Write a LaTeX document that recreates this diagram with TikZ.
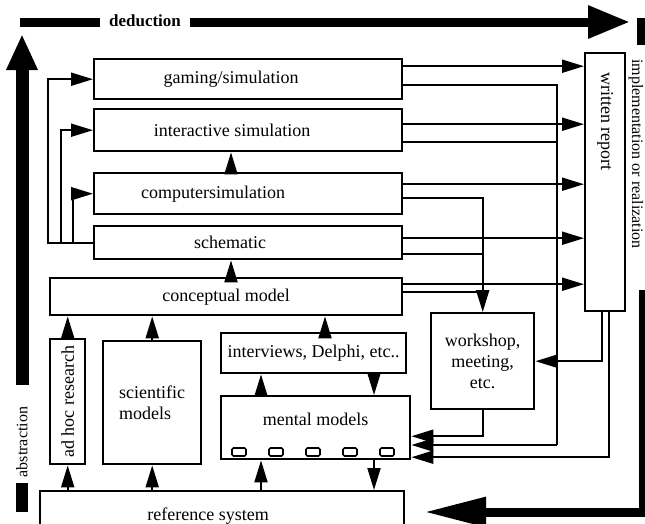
\documentclass[tikz,border=0pt]{standalone}
\usepackage{fontspec}
\setmainfont{Liberation Serif}
\usetikzlibrary{arrows.meta}

\tikzset{
	box/.style={draw, line width=2.4pt, inner sep=0pt, anchor=north west, align=center},
	wire/.style={line width=2pt},
	flow/.style={line width=2pt, -{Triangle[length=22pt,width=13pt]}},
	bar/.style={line width=#1},
	textleft/.style={execute at begin node={\hspace*{-#1}}},
}

\begin{document}
\begin{tikzpicture}[x=1pt, y=-1pt, font=\fontsize{18}{21}\selectfont]
			\clip (0,0) rectangle (645,523);
			\node[box, textleft=34pt, minimum width=308pt, minimum height=40pt] (gaming) at (93,58) {gaming/simulation};
			\node[box, textleft=32pt, minimum width=308pt, minimum height=42pt] (inter) at (93,108) {interactive simulation};
			\node[box, textleft=70pt, minimum width=308pt, minimum height=41pt] (comp) at (93,172) {computersimulation};
			\node[box, textleft=36pt, minimum width=308pt, minimum height=33pt] (schem) at (93,225) {schematic};
			\node[box, minimum width=352pt, minimum height=37pt] (concept) at (49,277) {conceptual model};
			\node[box, minimum width=35pt, minimum height=125pt] (adhoc) at (49,338) {\rotatebox{90}{ad hoc research}};
			\node[box, minimum width=98pt, minimum height=123pt, align=left] (sci) at (102,340) {scientific\\models};
			\node[box, minimum width=185pt, minimum height=40pt] (interv) at (220,332) {interviews, Delphi, etc..};
			\node[box, minimum width=189pt, minimum height=63pt] (mental) at (220,395) {mental models\\[-4pt]};
			\node[box, minimum width=103pt, minimum height=96pt] (workshop) at (430,312) {workshop,\\meeting,\\etc.};
			\node[box, textleft=28pt, minimum width=364pt, minimum height=50pt] (refsys) at (39,490) {reference system};
			\node[box, minimum width=40pt, minimum height=258pt] (report) at (584,52) {\rotatebox{-90}{\makebox[220pt][l]{written report}}};
			\foreach \i in {0,...,4}
				\draw[line width=1.6pt, rounded corners=1.5pt] (232+\i*37,448) rectangle ++(14,8);
			% big arrows round the picture
			\node[font=\bfseries\fontsize{17}{20}\selectfont] (ded) at (145,21) {deduction};
			\draw[bar=9pt] (20,22) -- ([xshift=-6pt]ded.west |- 0,22);
			\draw[bar=9pt, -{Triangle[length=42pt,width=31pt]}] ([xshift=6pt]ded.east |- 0,22) -- (630,22);
			\draw[bar=13pt, -{Triangle[length=36pt,width=29pt]}] (22,385) -- (22,34);
			\node[rotate=90, font=\fontsize{16}{18}\selectfont] (abs) at (22,442) {abstraction};
			\fill (16,483) rectangle (28,512);
			\fill (637,18) rectangle (648,45);
			\node[rotate=-90, font=\fontsize{16}{18}\selectfont] (impl) at (636,154) {implementation or realization};
			\draw[bar=9pt, -{Triangle[length=62pt,width=28pt]}] (643,290) |- (424,512);
			% feedback on the left
			\draw[flow] (schem.west) -| ([xshift=-45pt]gaming.west) -- (gaming.west);
			\draw[flow] (schem.west) -| ([xshift=-32pt]inter.west) -- (inter.west);
			\draw[flow] (schem.west) -| ([xshift=-20pt]comp.west) -- (comp.west);
			\coordinate (axis) at (231,0);
			\draw[flow] (axis |- comp.north) -- (axis |- inter.south);
			\draw[flow] (axis |- concept.north) -- (axis |- schem.south);
			\draw[flow] (adhoc.north) -- (adhoc.north |- concept.south);
			\draw[flow] (sci.north) -- (sci.north |- concept.south);
			\coordinate (ivup) at (325,0);
			\coordinate (mup) at (261,0);
			\coordinate (mdown) at (374,0);
			\draw[flow] (ivup |- interv.north) -- (ivup |- concept.south);
			\draw[flow] (mup |- mental.north) -- (mup |- interv.south);
			\draw[flow] (mdown |- interv.south) -- (mdown |- mental.north);
			\draw[flow] (adhoc.south |- refsys.north) -- (adhoc.south);
			\draw[flow] (sci.south |- refsys.north) -- (sci.south);
			\draw[flow] (mup |- refsys.north) -- (mup |- mental.south);
			\draw[flow] (mdown |- mental.south) -- (mdown |- refsys.north);
			% outputs on the right
			\coordinate (g-hi) at ([yshift=13pt]gaming.east);
			\coordinate (g-lo) at ([yshift=-6pt]gaming.east);
			\coordinate (i-hi) at ([yshift=6pt]inter.east);
			\coordinate (i-lo) at ([yshift=-12pt]inter.east);
			\coordinate (c-hi) at ([yshift=9.5pt]comp.east);
			\coordinate (c-lo) at ([yshift=-4.5pt]comp.east);
			\coordinate (s-hi) at ([yshift=4.5pt]schem.east);
			\coordinate (s-lo) at ([yshift=-11.5pt]schem.east);
			\coordinate (k-hi) at ([yshift=12.5pt]concept.east);
			\coordinate (k-lo) at ([yshift=4.5pt]concept.east);
			\draw[flow] (g-hi) -- (g-hi -| report.west);
			\draw[flow] (i-hi) -- (i-hi -| report.west);
			\draw[flow] (c-hi) -- (c-hi -| report.west);
			\draw[flow] (s-hi) -- (s-hi -| report.west);
			\draw[flow] (k-hi) -- (k-hi -| report.west);
			\coordinate (bus) at (557,445);
			\draw[wire] (g-lo) -| (bus);
			\draw[wire] (i-lo) -- (i-lo -| bus);
			\draw[flow] (bus) -- (bus -| mental.east);
			\draw[flow] (c-lo) -| (workshop.north);
			\draw[wire] (s-lo) -- (s-lo -| workshop.north);
			\draw[wire] (k-lo) -- (k-lo -| workshop.north);
			\coordinate (r-a) at ([xshift=-3pt]report.south);
			\coordinate (r-b) at ([xshift=4pt]report.south);
			\coordinate (m-a) at ([yshift=-8.5pt]mental.east);
			\coordinate (m-c) at ([yshift=-29.5pt]mental.east);
			\draw[flow] (r-a) |- (workshop.east);
			\draw[flow] (workshop.south) |- (m-a);
			\draw[flow] (r-b) |- (m-c);
		\end{tikzpicture}
\end{document}
